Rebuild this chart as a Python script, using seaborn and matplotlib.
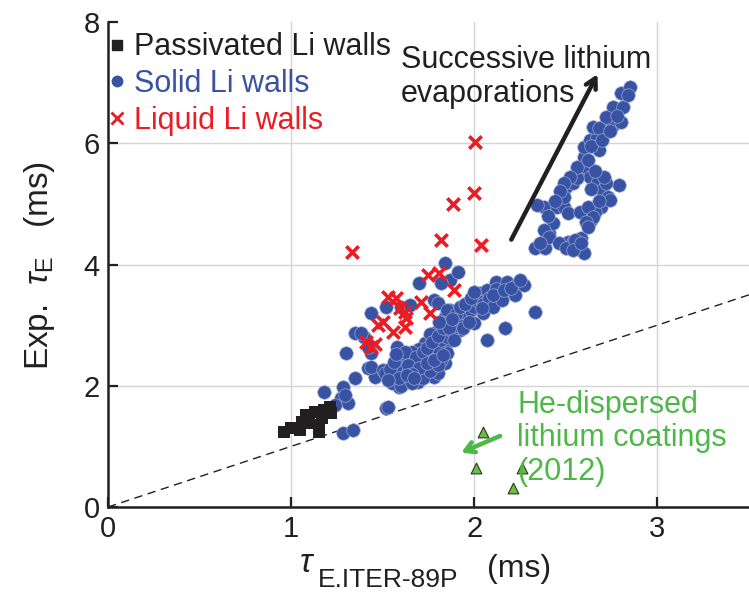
import matplotlib
matplotlib.use("Agg")
import matplotlib.pyplot as plt
import seaborn as sns
from matplotlib.lines import Line2D

# ---- data (ms) -------------------------------------------------------------
passivated_x = [0.96, 1.00, 1.05, 1.06, 1.08, 1.13, 1.15, 1.15, 1.17, 1.18,
                1.21, 1.22, 1.10]
passivated_y = [1.24, 1.30, 1.27, 1.40, 1.52, 1.57, 1.24, 1.35, 1.47, 1.60,
                1.65, 1.55, 1.38]

solid_x = [
    # low-confinement tail
    1.18, 1.285, 1.35, 1.27, 1.31, 1.285, 1.34, 1.52, 1.30, 1.35,
    1.40, 1.436, 1.436, 1.42, 1.46, 1.24, 1.295, 1.436, 1.50, 1.38, 1.42,
    # main band
    1.51, 1.57, 1.59, 1.69, 1.745, 1.78, 1.84, 1.58, 1.64, 1.69,
    1.745, 1.78, 1.84, 1.87, 1.89, 1.60, 1.65, 1.70, 1.78, 1.84,
    1.87, 1.53, 1.91, 1.82, 1.80, 1.85, 1.91, 1.96, 2.03, 2.07,
    2.12, 2.18, 2.23, 2.27, 2.14, 2.22, 2.05, 2.00, 1.92, 1.87,
    1.84, 1.82, 1.85, 2.33, 2.17, 2.07, 1.80, 1.52,
    1.55, 1.60, 1.62, 1.65, 1.68, 1.70, 1.72, 1.75, 1.78, 1.80,
    1.82, 1.85, 1.88, 1.90, 1.93, 1.95, 1.98, 2.00, 1.73, 1.76,
    1.70, 1.66, 1.62, 1.58, 1.54, 1.86, 1.90, 1.94, 1.97, 2.02,
    2.05, 2.08, 2.10, 2.12, 2.15, 1.60, 1.66, 1.72, 1.76, 1.80,
    1.56, 1.62, 1.68, 1.72, 1.74, 1.77, 1.80, 1.83, 1.86, 1.88,
    1.92, 1.95, 1.98, 2.00, 1.81, 1.57, 1.64, 1.70, 1.74, 1.78,
    1.66, 1.59, 1.53, 1.63, 1.67, 1.83, 1.89, 2.04, 2.10, 2.16,
    2.20, 2.25,
    # after successive evaporations
    2.33, 2.385, 2.41, 2.43, 2.38, 2.45, 2.49, 2.51, 2.51, 2.54,
    2.585, 2.60, 2.50, 2.54, 2.575, 2.61, 2.63, 2.67, 2.70, 2.73,
    2.69, 2.66, 2.64, 2.79, 2.60, 2.60, 2.63, 2.67, 2.68, 2.65,
    2.70, 2.76, 2.80, 2.775, 2.76, 2.81, 2.80, 2.85, 2.56, 2.49,
    2.34, 2.38, 2.41, 2.36, 2.46, 2.50, 2.55, 2.54, 2.575, 2.62,
    2.74, 2.72, 2.65, 2.61, 2.72, 2.68, 2.56, 2.52, 2.49,
    2.40, 2.62, 2.58, 2.64, 2.68, 2.71, 2.66, 2.62, 2.64, 2.70,
    2.74, 2.78, 2.84, 2.47, 2.44,
]
solid_y = [
    1.90, 1.98, 2.13, 1.80, 1.72, 1.22, 1.27, 1.63, 2.54, 2.87,
    2.81, 3.20, 2.54, 2.29, 2.15, 1.68, 1.85, 2.31, 2.26, 2.87, 2.64,
    2.21, 2.15, 1.98, 2.06, 2.18, 2.15, 2.38, 2.64, 2.43, 2.59,
    2.64, 2.87, 3.14, 3.25, 2.97, 3.30, 3.33, 3.70, 3.42, 4.03,
    3.75, 1.65, 3.88, 3.70, 3.37, 3.25, 3.14, 3.37, 3.53, 3.58,
    3.71, 3.71, 3.66, 3.66, 3.50, 3.50, 3.20, 3.04, 2.92, 2.81,
    2.64, 2.43, 2.54, 3.22, 2.95, 2.76, 2.21, 3.30,
    2.05, 2.25, 2.10, 2.30, 2.20, 2.40, 2.30, 2.45, 2.55, 2.60,
    2.75, 2.80, 2.90, 3.00, 3.10, 3.20, 3.25, 3.30, 2.70, 2.85,
    2.60, 2.55, 2.45, 2.35, 2.28, 3.05, 3.18, 2.95, 3.05, 3.40,
    3.35, 3.45, 3.30, 3.60, 3.42, 2.00, 2.05, 2.12, 2.25, 2.35,
    2.40, 2.55, 2.48, 2.55, 2.62, 2.72, 2.82, 2.95, 2.95, 3.10,
    3.30, 3.35, 3.45, 3.55, 3.05, 2.52, 2.35, 2.30, 2.38, 2.42,
    2.20, 2.12, 2.10, 2.18, 2.12, 2.50, 2.75, 3.28, 3.50, 3.58,
    3.62, 3.75,
    4.27, 4.27, 4.52, 4.69, 4.95, 4.95, 4.95, 4.85, 4.37, 4.37,
    4.44, 4.19, 5.28, 5.35, 5.51, 5.61, 5.45, 5.35, 5.23, 5.12,
    4.95, 4.87, 4.74, 5.31, 5.78, 5.94, 6.06, 6.11, 5.89, 6.27,
    6.27, 6.30, 6.35, 6.55, 6.60, 6.60, 6.83, 6.93, 5.43, 5.12,
    4.98, 4.57, 4.46, 4.36, 4.36, 4.27, 4.41, 4.24, 4.87, 4.95,
    5.07, 5.35, 4.79, 4.70, 6.44, 6.25, 5.61, 5.45, 5.35,
    4.80, 4.62, 4.35, 5.25, 5.05, 5.45, 5.55, 5.72, 5.95, 6.05,
    6.20, 6.45, 6.80, 5.22, 5.05,
]

liquid_x = [1.33, 2.005, 2.00, 1.886, 1.816, 2.038, 1.745, 1.81, 1.89, 1.707,
            1.756, 1.528, 1.572, 1.594, 1.62, 1.474, 1.50, 1.556, 1.62, 1.626,
            1.436, 1.41, 1.46]
liquid_y = [4.21, 6.02, 5.18, 5.00, 4.41, 4.32, 3.83, 3.86, 3.58, 3.38,
            3.20, 3.47, 3.45, 3.28, 3.22, 3.00, 3.05, 2.89, 2.97, 3.12,
            2.64, 2.72, 2.69]

he_coating_x = [2.05, 2.01, 2.26, 2.21]
he_coating_y = [1.24, 0.64, 0.64, 0.31]

series_labels = ["Passivated Li walls", "Solid Li walls", "Liquid Li walls"]
x_ticks = [0, 1, 2, 3]
y_ticks = [0, 2, 4, 6, 8]

# ---- style -----------------------------------------------------------------
BLACK = "#231f20"
BLUE = "#3953a4"
RED = "#ed1c24"
GREEN = "#4db848"
TRI_GREEN = "#6cbd45"

sns.set_theme(style="ticks")
plt.rcParams["font.family"] = ["Liberation Sans", "DejaVu Sans"]
plt.rcParams["mathtext.fontset"] = "custom"
plt.rcParams["mathtext.rm"] = "Liberation Sans"
plt.rcParams["mathtext.it"] = "Liberation Sans:italic"

fig = plt.figure(figsize=(7.49, 5.95), dpi=100)
ax = fig.add_axes([0.1442, 0.1479, 0.8558, 0.8151])

sns.scatterplot(x=solid_x, y=solid_y, marker="o", s=95, color=BLUE,
                edgecolor="#9aa8d4", linewidth=0.5, ax=ax, zorder=3)
sns.scatterplot(x=passivated_x, y=passivated_y, marker="s", s=72, color=BLACK,
                edgecolor=BLACK, linewidth=0, ax=ax, zorder=4)
sns.scatterplot(x=liquid_x, y=liquid_y, marker="x", s=80, color=RED,
                linewidth=2.6, ax=ax, zorder=5)
sns.scatterplot(x=he_coating_x, y=he_coating_y, marker="^", s=60,
                color=TRI_GREEN, edgecolor="#2a3a20", linewidth=0.8,
                ax=ax, zorder=5)

# unity line
ax.axline((0, 0), slope=1, color=BLACK, lw=1.0, ls=(0, (6, 4)), zorder=2)

ax.set_xlim(0, 3.5)
ax.set_ylim(0, 8)
ax.set_xticks(x_ticks)
ax.set_yticks(y_ticks)
ax.grid(True, color="#d5d5d5", lw=1.0, zorder=0)
ax.set_axisbelow(True)
ax.get_ygridlines()[-1].set_visible(False)
ax.get_xgridlines()[0].set_visible(False)

for side in ("top", "right"):
    ax.spines[side].set_visible(False)
for side in ("left", "bottom"):
    ax.spines[side].set_linewidth(1.8)
    ax.spines[side].set_color(BLACK)
ax.tick_params(direction="in", length=7, width=1.6, labelsize=21,
               pad=6, colors=BLACK)

# legend with coloured labels
handles = [
    Line2D([], [], marker="s", ls="", color=BLACK, ms=7.5),
    Line2D([], [], marker="o", ls="", color=BLUE, ms=7.5),
    Line2D([], [], marker="x", ls="", color=RED, ms=9, mew=2),
]
leg = ax.legend(handles, series_labels, loc="upper left",
                bbox_to_anchor=(0.002, 0.979), frameon=False, fontsize=22,
                handlelength=0.5, handletextpad=0.3, labelspacing=0.22,
                borderpad=0, borderaxespad=0)
for txt, col in zip(leg.get_texts(), [BLACK, BLUE, RED]):
    txt.set_color(col)

# annotations
ax.text(1.60, 7.62, "Successive lithium\nevaporations", ha="left", va="top",
        fontsize=22, color=BLACK, linespacing=1.15, zorder=6)
ax.annotate("", xy=(2.68, 7.18), xytext=(2.195, 4.37),
            arrowprops=dict(arrowstyle="->,head_length=0.6,head_width=0.33",
                            lw=3.2, color=BLACK), zorder=6)

ax.text(2.235, 1.93, "He-dispersed\nlithium coatings\n(2012)", ha="left",
        va="top", fontsize=22, color=GREEN, linespacing=1.15, zorder=6)
ax.annotate("", xy=(1.915, 0.88), xytext=(2.155, 1.19),
            arrowprops=dict(arrowstyle="->,head_length=0.55,head_width=0.32",
                            lw=3.2, color=GREEN), zorder=6)

# axis labels
fig.text(40 / 749, 1 - 266 / 595, r"Exp.  $\tau_{\rm E}$   (ms)", rotation=90,
         ha="center", va="center", fontsize=24, color=BLACK)
fig.text(299 / 749, 1 - 572 / 595, r"$\tau$", ha="left", va="baseline",
         fontsize=24, color=BLACK)
fig.text(318 / 749, 3 / 595, "E.ITER-89P", ha="left", va="bottom",
         fontsize=19, color=BLACK)
fig.text(487 / 749, 1 - 577 / 595, "(ms)", ha="left", va="baseline",
         fontsize=23, color=BLACK)

fig.savefig("out.png", dpi=100)
